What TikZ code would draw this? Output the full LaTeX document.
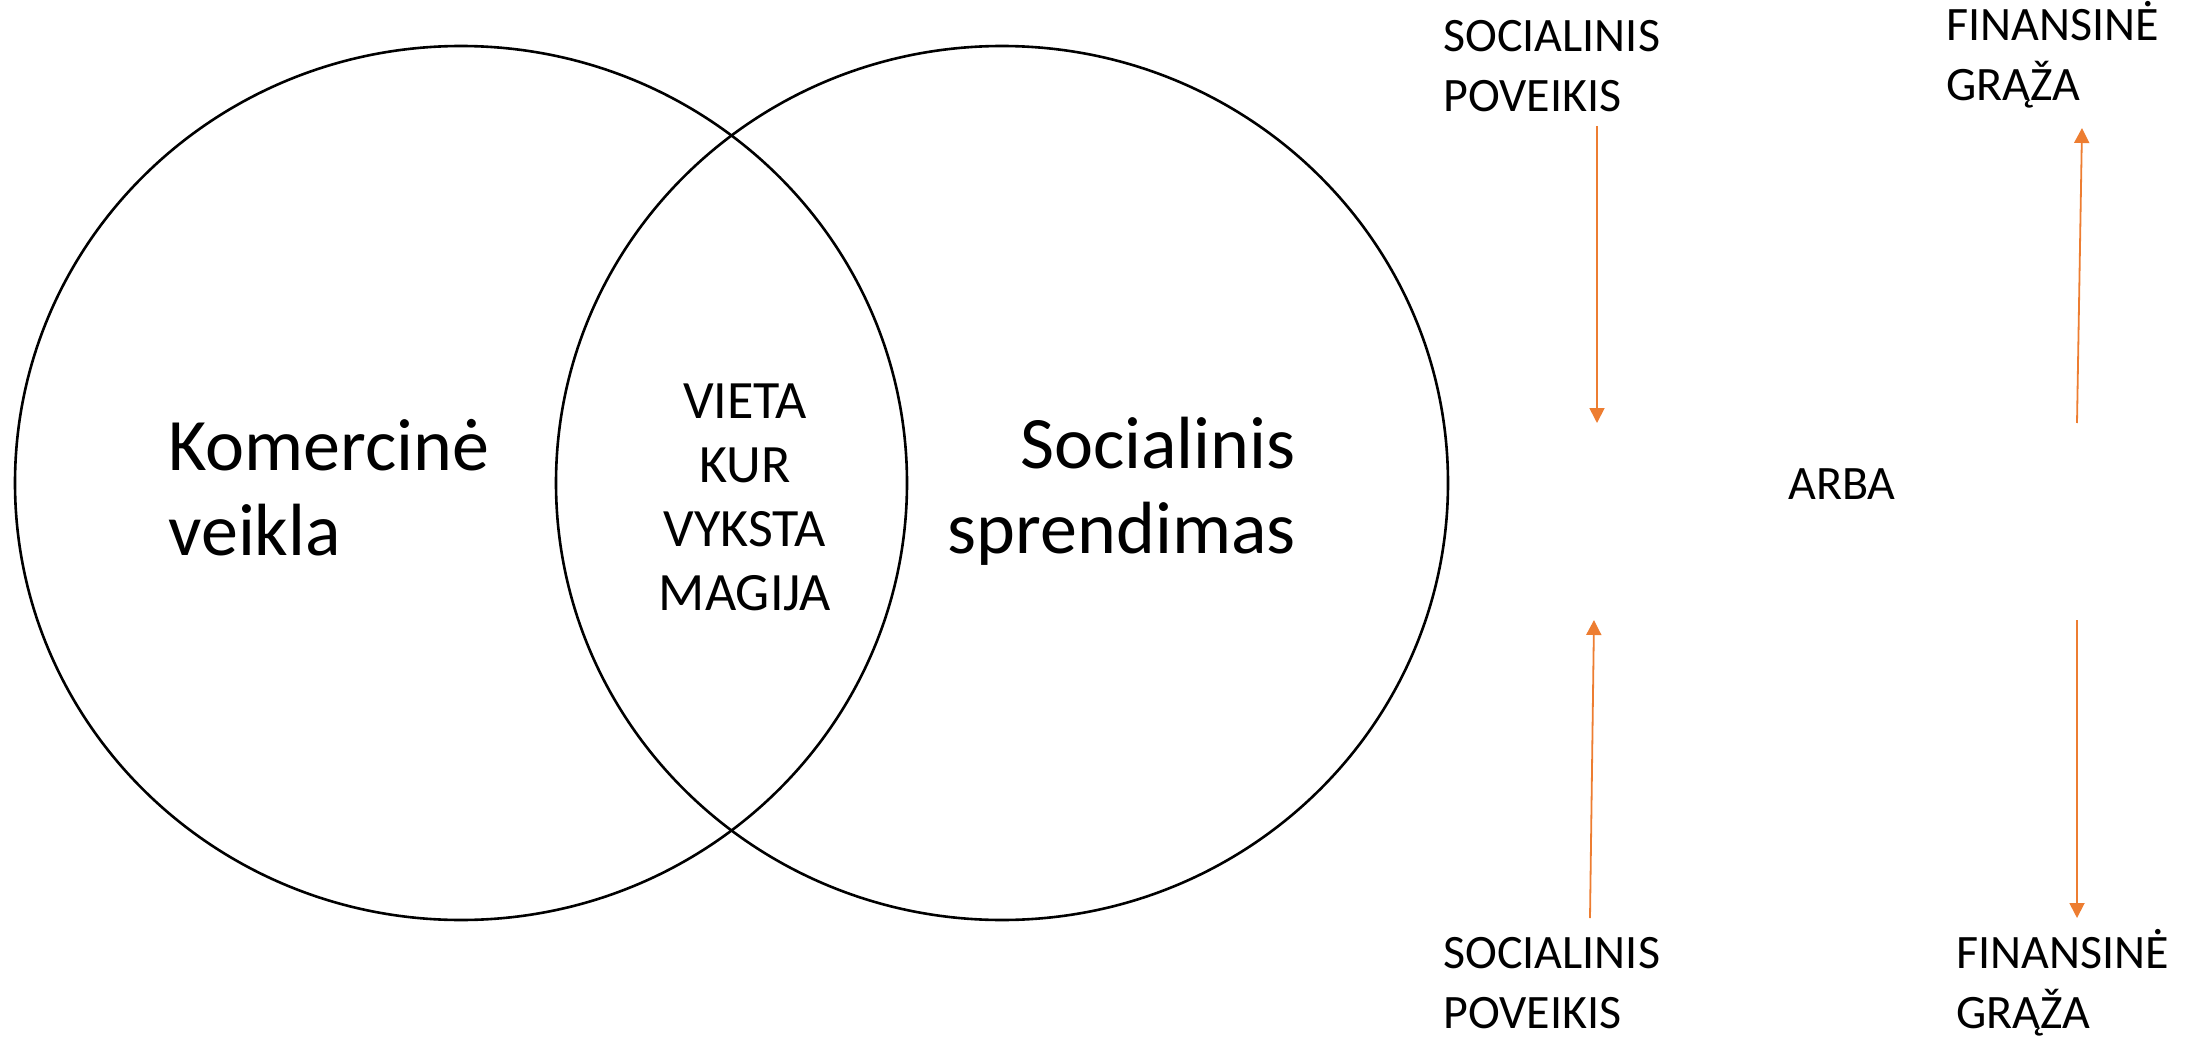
\documentclass[tikz,border=0pt]{standalone}
\usepackage{fontspec}
\setmainfont{Carlito}
\usetikzlibrary{arrows.meta}
\definecolor{oranzine}{HTML}{ED7D31}
\tikzset{
    ratas/.style={draw, line width=1.3pt}, % Venn diagramos apskritimai
    rodykle/.style={draw=oranzine, line width=0.9pt, -{Triangle[length=7.5pt, width=7.5pt]}}, % oranzines rodykles
    didelis/.style={font=\fontsize{37}{42.5}\selectfont, inner sep=0pt},
    vidurys/.style={font=\fontsize{27}{32}\selectfont, inner sep=0pt, align=center},
    mazas/.style={font=\fontsize{24}{30}\selectfont, inner sep=0pt, align=left}
}
\begin{document}
\begin{tikzpicture}[x=0.5pt, y=-0.5pt]
    \useasboundingbox (0,0) rectangle (2191,1038);
    \def\cy{483} \def\rx{446} \def\ry{437}

    \draw[ratas] (461,\cy) ellipse [x radius=\rx, y radius=\ry];
    \draw[ratas] (1002,\cy) ellipse [x radius=\rx, y radius=\ry];

    % base = paskutines eilutes linija
    \node[didelis, align=left, anchor=base west] (komerc) at (168,555) {Komercinė\\veikla};
    \node[didelis, align=right, anchor=base east] (social) at (1296,553) {Socialinis\\sprendimas};
    \node[vidurys, anchor=base] (magija) at (745,610) {VIETA\\KUR\\VYKSTA\\MAGIJA};

    \node[mazas, anchor=base west] (svVirsus) at (1443,112) {SOCIALINIS\\POVEIKIS};
    \node[mazas, anchor=base west] (fgVirsus) at (1946,101) {FINANSINĖ\\GRĄŽA};
    \node[mazas, anchor=base] (arba) at (1842,499) {ARBA};
    \node[mazas, anchor=base west] (svApacia) at (1443,1028) {SOCIALINIS\\POVEIKIS};
    \node[mazas, anchor=base west] (fgApacia) at (1956,1028) {FINANSINĖ\\GRĄŽA};

    \coordinate (r1a) at (1597,126); \coordinate (r1b) at (1597,423);
    \coordinate (r2a) at (2077,423); \coordinate (r2b) at (2082,128);
    \coordinate (r3a) at (1590,918); \coordinate (r3b) at (1594,620);
    \coordinate (r4a) at (2077,620); \coordinate (r4b) at (2077,918);
    \foreach \a/\b in {r1a/r1b, r2a/r2b, r3a/r3b, r4a/r4b} {\draw[rodykle] (\a) -- (\b);}
\end{tikzpicture}
\end{document}
